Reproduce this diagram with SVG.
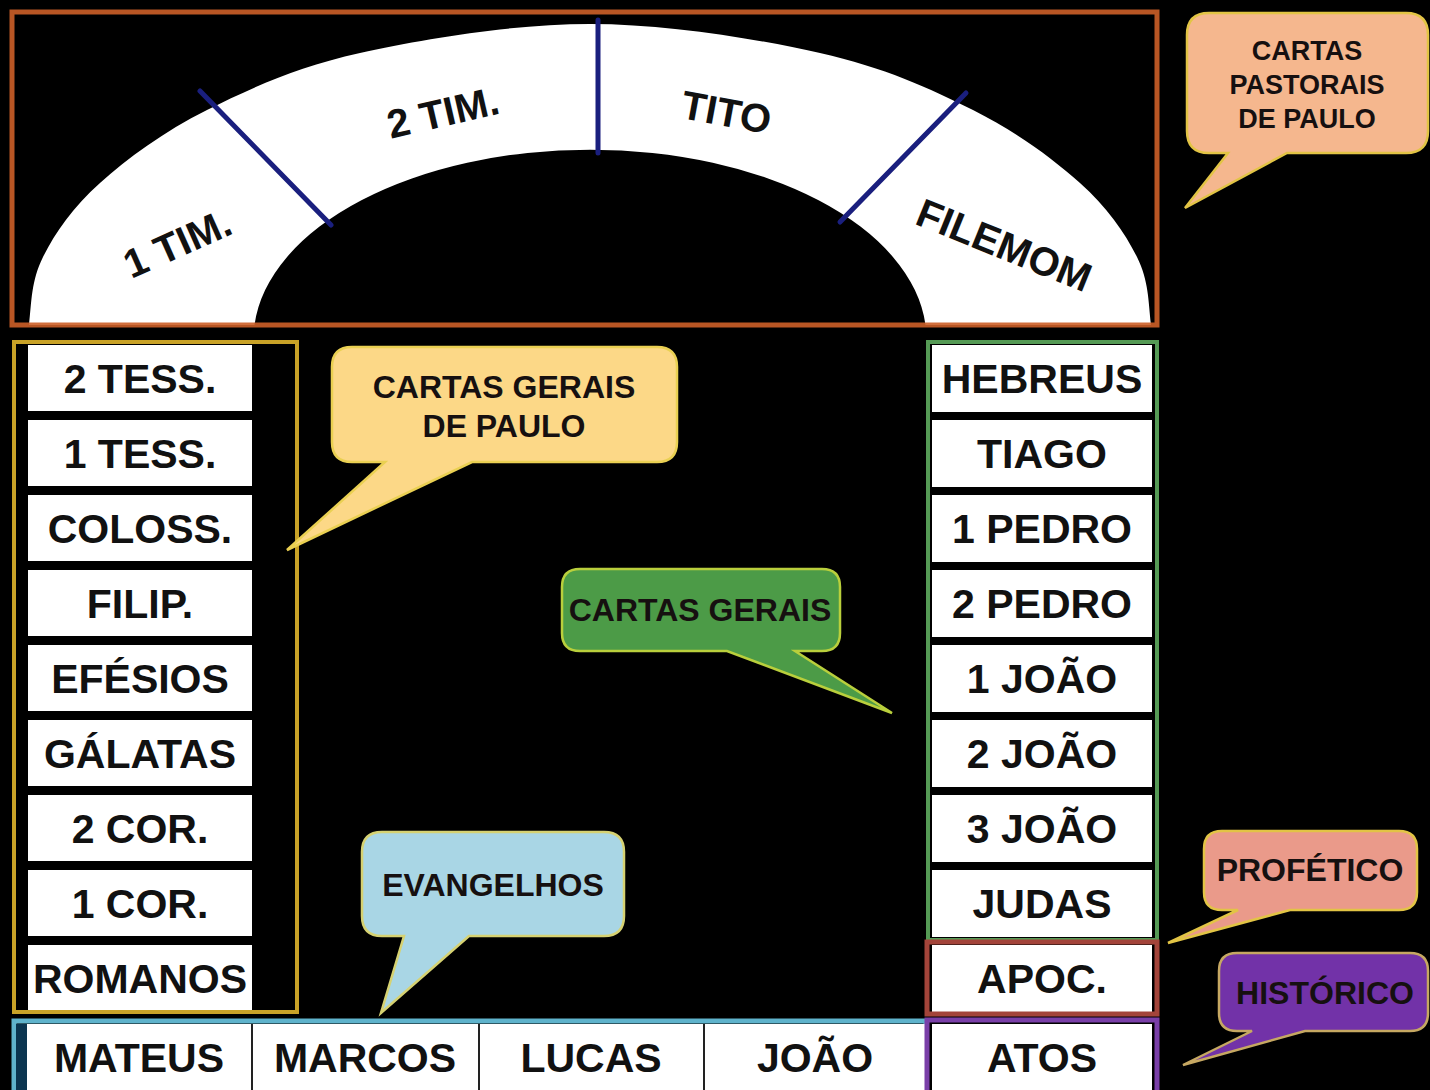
<svg xmlns="http://www.w3.org/2000/svg" width="1430" height="1090" viewBox="0 0 1430 1090">
<style>
  .bk { font-family: "Liberation Sans", Arial, sans-serif; font-weight: bold; font-size: 41px; fill: #111; text-anchor: middle; }
  .arc { font-family: "Liberation Sans", Arial, sans-serif; font-weight: bold; font-size: 40px; fill: #111; text-anchor: middle; }
  .cl { font-family: "Liberation Sans", Arial, sans-serif; font-weight: bold; fill: #161010; text-anchor: middle; }
  .cell { fill: #ffffff; }
  .div { stroke: #1a1f7e; stroke-width: 5; stroke-linecap: round; }
</style>
<rect x="0" y="0" width="1430" height="1090" fill="#000"/>

<g id="arch">
  <path d="M 29 325 C 31.7 301.2 31.2 280.7 43 257 C 54.8 233.3 72.7 207.5 100 183 C 127.3 158.5 163.7 131.7 207 110 C 250.3 88.3 296.2 67.3 360 53 C 423.8 38.7 513.3 24 590 24 C 666.7 24 756.2 38.7 820 53 C 883.8 67.3 929.7 88.3 973 110 C 1016.3 131.7 1052.7 158.5 1080 183 C 1107.3 207.5 1125.2 233.3 1137 257 C 1148.8 280.7 1148.3 301.2 1151 325 L 925.5 325 A 336.5 190 0 0 0 254.5 325 Z" fill="#fff"/>
  <line class="div" x1="200" y1="91" x2="331" y2="225"/>
  <line class="div" x1="598" y1="20" x2="598" y2="153"/>
  <line class="div" x1="966" y1="93" x2="840" y2="222"/>
  <text class="arc" transform="translate(183,256) rotate(-24)">1 TIM.</text>
  <text class="arc" transform="translate(446,126) rotate(-13)">2 TIM.</text>
  <text class="arc" transform="translate(724,126) rotate(10.5)">TITO</text>
  <text class="arc" transform="translate(999,258) rotate(22)">FILEMOM</text>
  <rect x="12" y="12" width="1145" height="313" fill="none" stroke="#cc5f28" stroke-width="5" stroke-opacity="0.9"/>
</g>

<g id="paul-letters">
  <rect class="cell" x="28" y="345" width="224" height="66"/>
  <rect class="cell" x="28" y="420" width="224" height="66"/>
  <rect class="cell" x="28" y="495" width="224" height="66"/>
  <rect class="cell" x="28" y="570" width="224" height="66"/>
  <rect class="cell" x="28" y="645" width="224" height="66"/>
  <rect class="cell" x="28" y="720" width="224" height="66"/>
  <rect class="cell" x="28" y="795" width="224" height="66"/>
  <rect class="cell" x="28" y="870" width="224" height="66"/>
  <rect class="cell" x="28" y="945" width="224" height="66"/>
  <text class="bk" x="140" y="393">2 TESS.</text>
  <text class="bk" x="140" y="468">1 TESS.</text>
  <text class="bk" x="140" y="543">COLOSS.</text>
  <text class="bk" x="140" y="618">FILIP.</text>
  <text class="bk" x="140" y="693">EFÉSIOS</text>
  <text class="bk" x="140" y="768">GÁLATAS</text>
  <text class="bk" x="140" y="843">2 COR.</text>
  <text class="bk" x="140" y="918">1 COR.</text>
  <text class="bk" x="140" y="993">ROMANOS</text>
  <rect x="14" y="342" width="283" height="670" fill="none" stroke="#c9a227" stroke-width="4"/>
</g>

<g id="general-letters">
  <rect class="cell" x="932" y="345" width="220" height="67"/>
  <rect class="cell" x="932" y="420" width="220" height="67"/>
  <rect class="cell" x="932" y="495" width="220" height="67"/>
  <rect class="cell" x="932" y="570" width="220" height="67"/>
  <rect class="cell" x="932" y="645" width="220" height="67"/>
  <rect class="cell" x="932" y="720" width="220" height="67"/>
  <rect class="cell" x="932" y="795" width="220" height="67"/>
  <rect class="cell" x="932" y="870" width="220" height="67"/>
  <text class="bk" x="1042" y="393">HEBREUS</text>
  <text class="bk" x="1042" y="468">TIAGO</text>
  <text class="bk" x="1042" y="543">1 PEDRO</text>
  <text class="bk" x="1042" y="618">2 PEDRO</text>
  <text class="bk" x="1042" y="693">1 JOÃO</text>
  <text class="bk" x="1042" y="768">2 JOÃO</text>
  <text class="bk" x="1042" y="843">3 JOÃO</text>
  <text class="bk" x="1042" y="918">JUDAS</text>
  <rect x="928" y="342" width="229" height="598" fill="none" stroke="#559a55" stroke-width="4"/>
</g>

<g id="apoc">
  <rect class="cell" x="932" y="945" width="220" height="67"/>
  <text class="bk" x="1042" y="993">APOC.</text>
  <rect x="927" y="942" width="230" height="72" fill="none" stroke="#a3443a" stroke-width="5"/>
</g>

<g id="gospels">
  <rect x="14" y="1021" width="912" height="80" fill="none" stroke="#5fb3cc" stroke-width="5"/>
  <rect x="16" y="1024" width="11" height="70" fill="#0b3550"/>
  <rect class="cell" x="27" y="1024" width="898" height="70"/>
  <line x1="252" y1="1024" x2="252" y2="1094" stroke="#222" stroke-width="2"/>
  <line x1="479" y1="1024" x2="479" y2="1094" stroke="#222" stroke-width="2"/>
  <line x1="704" y1="1024" x2="704" y2="1094" stroke="#222" stroke-width="2"/>
  <text class="bk" x="139" y="1072">MATEUS</text>
  <text class="bk" x="365" y="1072">MARCOS</text>
  <text class="bk" x="591" y="1072">LUCAS</text>
  <text class="bk" x="815" y="1072">JOÃO</text>
</g>

<g id="atos">
  <rect class="cell" x="932" y="1024" width="220" height="70"/>
  <text class="bk" x="1042" y="1072">ATOS</text>
  <rect x="927" y="1020" width="230" height="80" fill="none" stroke="#7a3fa8" stroke-width="5"/>
</g>

<g id="callout-pastorais">
  <path d="M 1209 13 H 1406 Q 1428 13 1428 35 V 131 Q 1428 153 1406 153 H 1287 L 1185 208 L 1228 153 H 1209 Q 1187 153 1187 131 V 35 Q 1187 13 1209 13 Z" fill="#f5b78e" stroke="#e2c445" stroke-width="2.5"/>
  <text class="cl" font-size="27" x="1307" y="60">CARTAS</text>
  <text class="cl" font-size="27" x="1307" y="94">PASTORAIS</text>
  <text class="cl" font-size="27" x="1307" y="128">DE PAULO</text>
</g>

<g id="callout-gerais-paulo">
  <path d="M 352 347 H 657 Q 677 347 677 367 V 442 Q 677 462 657 462 H 472 L 287 550 L 385 462 H 352 Q 332 462 332 442 V 367 Q 332 347 352 347 Z" fill="#fcd887" stroke="#ead052" stroke-width="2.5"/>
  <text class="cl" font-size="32" x="504" y="398">CARTAS GERAIS</text>
  <text class="cl" font-size="32" x="504" y="437">DE PAULO</text>
</g>

<g id="callout-gerais">
  <path d="M 580 569 H 822 Q 840 569 840 587 V 633 Q 840 651 822 651 H 795 L 892 713 L 727 651 H 580 Q 562 651 562 633 V 587 Q 562 569 580 569 Z" fill="#4c9b47" stroke="#b9cf3c" stroke-width="2.5"/>
  <text class="cl" font-size="32" x="700" y="621" fill="#0f1f0c">CARTAS GERAIS</text>
</g>

<g id="callout-evangelhos">
  <path d="M 382 832 H 604 Q 624 832 624 852 V 916 Q 624 936 604 936 H 469 L 381 1013 L 404 936 H 382 Q 362 936 362 916 V 852 Q 362 832 382 832 Z" fill="#a9d6e5" stroke="#d6d272" stroke-width="2.5"/>
  <text class="cl" font-size="32" x="493" y="896">EVANGELHOS</text>
</g>

<g id="callout-profetico">
  <path d="M 1222 831 H 1399 Q 1417 831 1417 849 V 892 Q 1417 910 1399 910 H 1290 L 1168 943 L 1238 910 H 1222 Q 1204 910 1204 892 V 849 Q 1204 831 1222 831 Z" fill="#ea9a8a" stroke="#e2c445" stroke-width="2.5"/>
  <text class="cl" font-size="32" x="1310" y="881">PROFÉTICO</text>
</g>

<g id="callout-historico">
  <path d="M 1237 953 H 1410 Q 1428 953 1428 971 V 1013 Q 1428 1031 1410 1031 H 1305 L 1183 1065 L 1252 1031 H 1237 Q 1219 1031 1219 1013 V 971 Q 1219 953 1237 953 Z" fill="#7232a8" stroke="#c6a862" stroke-width="2.5"/>
  <text class="cl" font-size="32" x="1325" y="1004" fill="#1a0a22">HISTÓRICO</text>
</g>

<g id="connectors"></g>
</svg>
